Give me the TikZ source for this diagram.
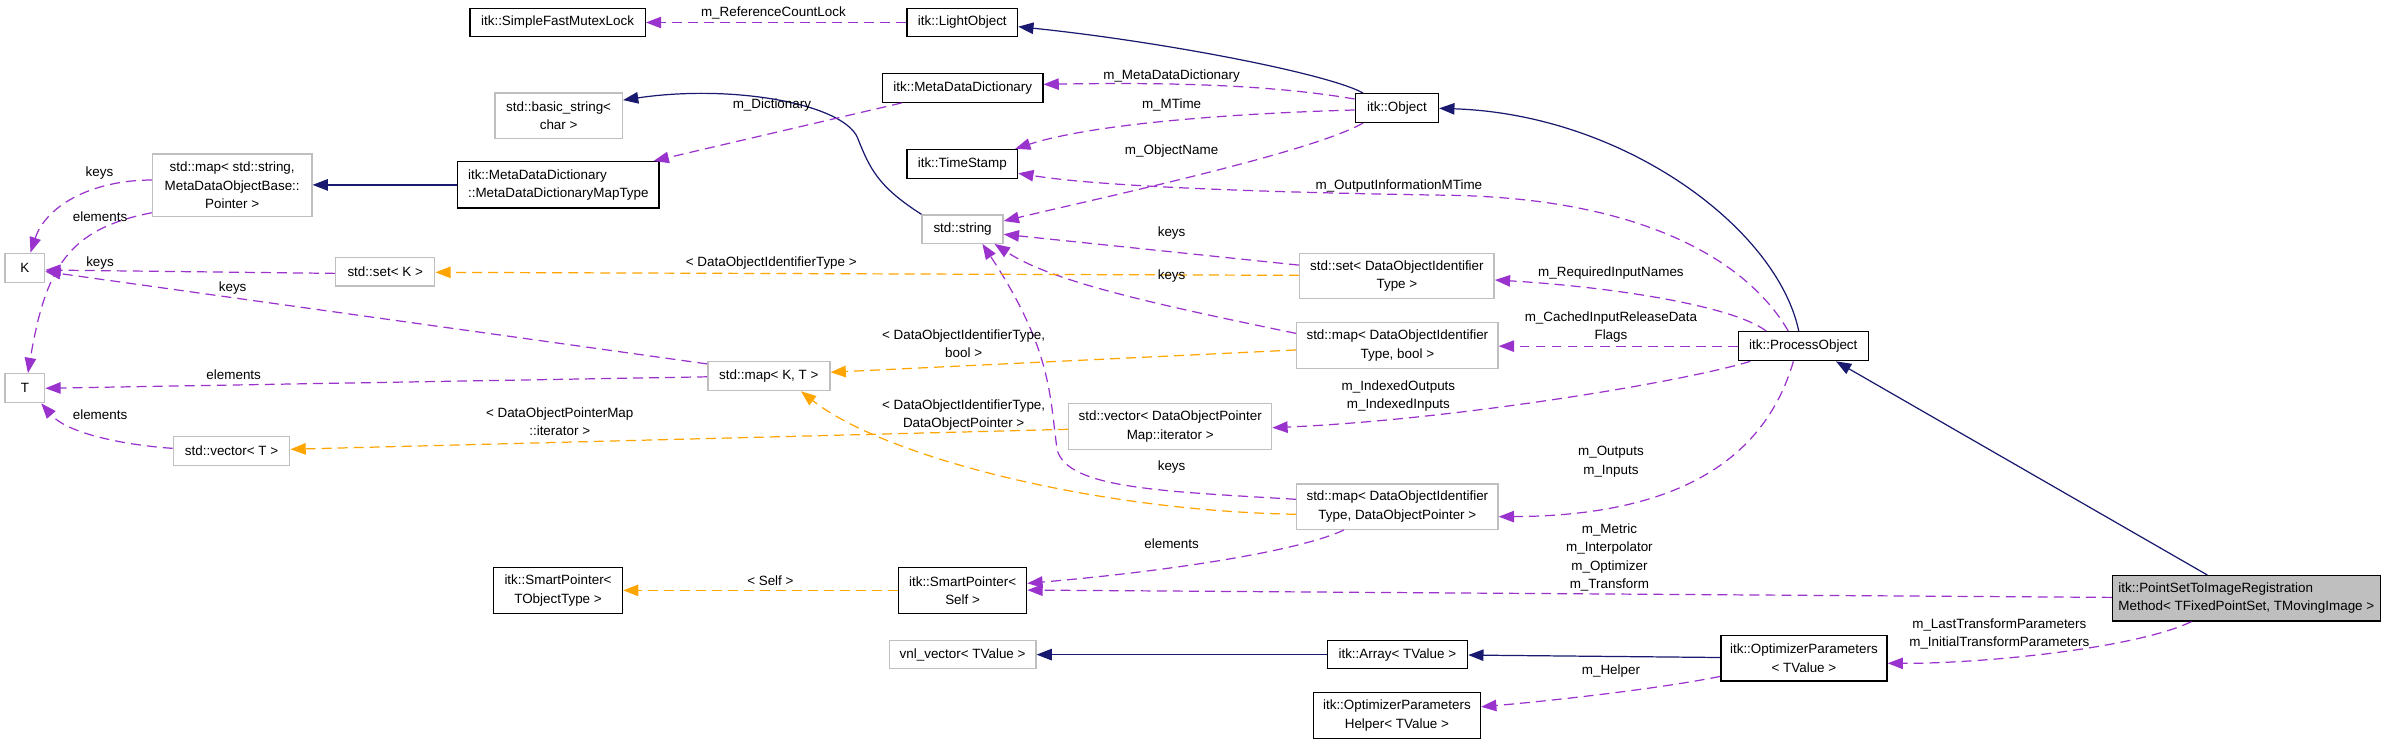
\documentclass[tikz,border=0pt]{standalone}
\usepackage{fontspec}
\setmainfont{Liberation Sans}
\usetikzlibrary{arrows.meta,calc}
\definecolor{navy}{HTML}{191970}
\definecolor{purp}{HTML}{9A32CD}
\definecolor{orng}{HTML}{FFA500}
\definecolor{gborder}{HTML}{BFBFBF}
\definecolor{gfill}{HTML}{BFBFBF}
\newcommand{\nf}{\fontsize{8.8}{12}\selectfont}
\tikzset{
  box/.style={draw=black, fill=white, line width=0.9pt, inner sep=0pt, align=center, font=\nf},
  gbox/.style={box, draw=gborder},
  tip/.style={-{Triangle[length=10pt,width=7.5pt]}},
  inh/.style={draw=navy, line width=0.8pt, tip},
  use/.style={draw=purp, line width=0.8pt, dash pattern=on 6.5pt off 4pt, tip},
  tmpl/.style={use, draw=orng},
  lbl/.style={font=\nf, align=center, inner sep=0pt}
}
\begin{document}
\begin{tikzpicture}[x=1pt,y=-1pt]
\useasboundingbox[fill=white] (0,0) rectangle (1568,488);
% nodes
\node[box, minimum width=115pt, minimum height=18.5pt] (sfml) at (365.5,14.75) {itk::SimpleFastMutexLock};
\node[box, minimum width=72.4pt, minimum height=18.5pt] (light) at (630.8,14.75) {itk::LightObject};
\node[box, minimum width=105pt, minimum height=19pt] (mdd) at (631.1,57.5) {itk::MetaDataDictionary};
\node[gbox, minimum width=83.5pt, minimum height=29.7pt] (bstr) at (366.2,75.8) {std::basic\_string\textless\\char \textgreater};
\node[box, minimum width=54.5pt, minimum height=18.8pt] (obj) at (915.7,70.8) {itk::Object};
\node[box, minimum width=72.4pt, minimum height=19pt] (ts) at (630.8,107.5) {itk::TimeStamp};
\node[gbox, minimum width=104.5pt, minimum height=41pt] (smap) at (152.2,121.5) {std::map\textless{} std::string,\\MetaDataObjectBase::\\Pointer \textgreater};
\node[box, align=left, minimum width=132pt, minimum height=30.5pt] (mdmt) at (366,121.2) {itk::MetaDataDictionary\\::MetaDataDictionaryMapType};
\node[gbox, minimum width=53pt, minimum height=18.5pt] (str) at (631,150.2) {std::string};
\node[gbox, minimum width=26pt, minimum height=19pt] (K) at (16.3,175.5) {K};
\node[gbox, minimum width=65pt, minimum height=18.5pt] (setK) at (252.5,178.2) {std::set\textless{} K \textgreater};
\node[gbox, minimum width=127.5pt, minimum height=29.6pt] (setD) at (915.7,180.8) {std::set\textless{} DataObjectIdentifier\\Type \textgreater};
\node[gbox, minimum width=132pt, minimum height=30pt] (mapDB) at (916,226.5) {std::map\textless{} DataObjectIdentifier\\Type, bool \textgreater};
\node[box, minimum width=85.2pt, minimum height=19pt] (po) at (1182.1,226.9) {itk::ProcessObject};
\node[gbox, minimum width=80pt, minimum height=19pt] (mapKT) at (504,246.5) {std::map\textless{} K, T \textgreater};
\node[gbox, minimum width=26pt, minimum height=19pt] (T) at (16.3,254.5) {T};
\node[gbox, minimum width=133pt, minimum height=30pt] (vecD) at (767.1,279.5) {std::vector\textless{} DataObjectPointer\\Map::iterator \textgreater};
\node[gbox, minimum width=76.3pt, minimum height=19pt] (vecT) at (151.8,295.5) {std::vector\textless{} T \textgreater};
\node[gbox, minimum width=132pt, minimum height=29.7pt] (mapDP) at (916,332.1) {std::map\textless{} DataObjectIdentifier\\Type, DataObjectPointer \textgreater};
\node[box, minimum width=84.4pt, minimum height=30pt] (spT) at (365.8,387) {itk::SmartPointer\textless\\TObjectType \textgreater};
\node[box, minimum width=84pt, minimum height=30pt] (spS) at (631,387) {itk::SmartPointer\textless\\Self \textgreater};
\node[box, fill=gfill, align=left, minimum width=175.5pt, minimum height=29.7pt] (ps) at (1472.5,392.2) {itk::PointSetToImageRegistration\\Method\textless{} TFixedPointSet, TMovingImage \textgreater};
\node[gbox, minimum width=96pt, minimum height=18.3pt] (vnl) at (631,429.1) {vnl\_vector\textless{} TValue \textgreater};
\node[box, minimum width=92pt, minimum height=18.3pt] (arr) at (916,429.1) {itk::Array\textless{} TValue \textgreater};
\node[box, minimum width=108.9pt, minimum height=29.7pt] (opt) at (1182.5,431.5) {itk::OptimizerParameters\\\textless{} TValue \textgreater};
\node[box, minimum width=109.5pt, minimum height=30pt] (helper) at (915.7,469) {itk::OptimizerParameters\\Helper\textless{} TValue \textgreater};

% inheritance
\draw[inh] ($(obj.north)+(-22.2,0)$) .. controls (870,48) and (760,27) .. ($(light.east)+(0,2.75)$);
\draw[inh] ($(po.north)+(-3,0)$) .. controls (1165,150) and (1065,75) .. ($(obj.east)+(0,0.2)$);
\draw[inh] ($(ps.north)+(-25.6,0)$) -- ($(po.south)+(21.4,0)$);
\draw[inh] (str.north west) .. controls (575,122) and (570,110) .. (562,90) .. controls (552,68) and (480,55) .. ($(bstr.east)+(0,-10.2)$);
\draw[inh] (mdmt.west) -- (smap.east |- mdmt.west);
\draw[inh] (arr.west) -- (vnl.east);
\draw[inh] ($(opt.west)+(0,-0.5)$) -- ($(arr.east)+(0,0.3)$);

% usage
\draw[use] (light.west) -- (sfml.east);
\draw[use] ($(obj.west)+(0,-5.9)$) .. controls (830,55) and (760,54) .. ($(mdd.east)+(0,-2.2)$);
\draw[use] ($(obj.west)+(0,1.3)$) .. controls (820,74) and (720,80) .. ($(ts.north east)+(-2,0)$);
\draw[use] ($(obj.south)+(-22.2,0)$) .. controls (860,100) and (720,130) .. ($(str.east)+(0,-5.3)$);
\draw[use] ($(po.north)+(-9.9,0)$) .. controls (1145,170) and (1075,130) .. (950,128) .. controls (820,126) and (720,122) .. ($(ts.east)+(0,6.1)$);
\draw[use] ($(mdd.south west)+(13,0)$) -- ($(mdmt.north east)+(-4,0)$);
\draw[use] ($(smap.west)+(0,-3.5)$) .. controls (60,118) and (30,135) .. ($(K.north)+(3.7,0)$);
\draw[use] ($(smap.south west)+(0,-3)$) .. controls (45,150) and (30,175) .. ($(T.north)+(2,0)$);
\draw[use] ($(setK.west)+(0,1)$) -- ($(K.east)+(0,1.5)$);
\draw[use] ($(mapKT.north west)+(0,2)$) -- ($(K.east)+(0,2.5)$);
\draw[use] ($(mapKT.west)+(0,0.5)$) -- (T.east);
\draw[use] ($(vecT.west)+(0,-1.6)$) .. controls (85,292) and (45,285) .. ($(T.south east)+(-2.7,0)$);
\draw[use] ($(setD.west)+(0,-7)$) -- ($(str.east)+(0,3.4)$);
\draw[use] ($(mapDB.north west)+(0,7.5)$) .. controls (760,200) and (690,185) .. ($(str.south east)+(-6,0)$);
\draw[use] ($(mapDP.west)+(0,-4.8)$) .. controls (760,322) and (700,320) .. (693,295) .. controls (688,260) and (690,230) .. ($(str.south)+(13,0)$);
\draw[use] ($(po.north west)+(18.7,0)$) .. controls (1135,200) and (1055,188) .. ($(setD.east)+(0,2.7)$);
\draw[use] (po.west) -- (mapDB.east |- po.west);
\draw[use] ($(po.south west)+(8.3,0)$) .. controls (1105,250) and (955,275) .. ($(vecD.east)+(0,0.9)$);
\draw[use] ($(po.south)+(-6.5,0)$) .. controls (1160,290) and (1115,338) .. ($(mapDP.east)+(0,6.6)$);
\draw[use] ($(mapDP.south)+(-35,0)$) .. controls (850,362) and (760,375) .. ($(spS.east)+(0,-4.6)$);
\draw[use] ($(ps.west)+(0,-0.6)$) -- ($(spS.east)+(0,-0.2)$);
\draw[use] ($(opt.south west)+(0,-3.4)$) .. controls (1085,452) and (1010,460) .. ($(helper.east)+(0,-5.7)$);
\draw[use] ($(ps.south)+(-36,0)$) .. controls (1400,425) and (1300,435) .. ($(opt.east)+(0,3.3)$);

% template
\draw[tmpl] ($(setD.west)+(0,-0.3)$) -- ($(setK.east)+(0,0.3)$);
\draw[tmpl] ($(mapDB.west)+(0,2.9)$) -- ($(mapKT.east)+(0,-2.5)$);
\draw[tmpl] ($(mapDP.west)+(0,5)$) .. controls (720,335) and (580,300) .. ($(mapKT.south)+(21,0)$);
\draw[tmpl] ($(vecD.west)+(0,1.9)$) -- ($(vecT.east)+(0,-1)$);
\draw[tmpl] (spS.west) -- (spT.east);

% labels
\node[lbl] (l1) at (507,8.3) {m\_ReferenceCountLock};
\node[lbl] (l5) at (768,49.8) {m\_MetaDataDictionary};
\node[lbl] (l6) at (768,68.8) {m\_MTime};
\node[lbl] (l7) at (768,98.8) {m\_ObjectName};
\node[lbl] (l8) at (917,121.9) {m\_OutputInformationMTime};
\node[lbl] (l9) at (506,68.8) {m\_Dictionary};
\node[lbl] (l12) at (65.2,113.2) {keys};
\node[lbl] (l13) at (65.6,142) {elements};
\node[lbl] (l14) at (65.6,172.2) {keys};
\node[lbl] (l15) at (152.5,189) {keys};
\node[lbl] (l16) at (153.2,245.6) {elements};
\node[lbl] (l17) at (65.6,271.6) {elements};
\node[lbl] (l18) at (505.6,172.6) {\textless{} DataObjectIdentifierType \textgreater};
\node[lbl] (l19) at (768,152.5) {keys};
\node[lbl] (l20) at (768,181) {keys};
\node[lbl] (l21) at (631.7,225.4) {\textless{} DataObjectIdentifierType,\\bool \textgreater};
\node[lbl] (l22) at (768,306.3) {keys};
\node[lbl] (l23) at (631.7,272) {\textless{} DataObjectIdentifierType,\\DataObjectPointer \textgreater};
\node[lbl] (l24) at (366.9,276.4) {\textless{} DataObjectPointerMap\\::iterator \textgreater};
\node[lbl] (l25) at (1056,178.8) {m\_RequiredInputNames};
\node[lbl] (l26) at (1056,214.5) {m\_CachedInputReleaseData\\Flags};
\node[lbl] (l27) at (916.7,259.8) {m\_IndexedOutputs\\m\_IndexedInputs};
\node[lbl] (l28) at (1056,302.7) {m\_Outputs\\m\_Inputs};
\node[lbl] (l29) at (768,356.2) {elements};
\node[lbl] (l30) at (1055,365.5) {m\_Metric\\m\_Interpolator\\m\_Optimizer\\m\_Transform};
\node[lbl] (l31) at (505,380.6) {\textless{} Self \textgreater};
\node[lbl] (l34) at (1056,439.9) {m\_Helper};
\node[lbl] (l35) at (1310.6,415.5) {m\_LastTransformParameters\\m\_InitialTransformParameters};
\end{tikzpicture}
\end{document}
